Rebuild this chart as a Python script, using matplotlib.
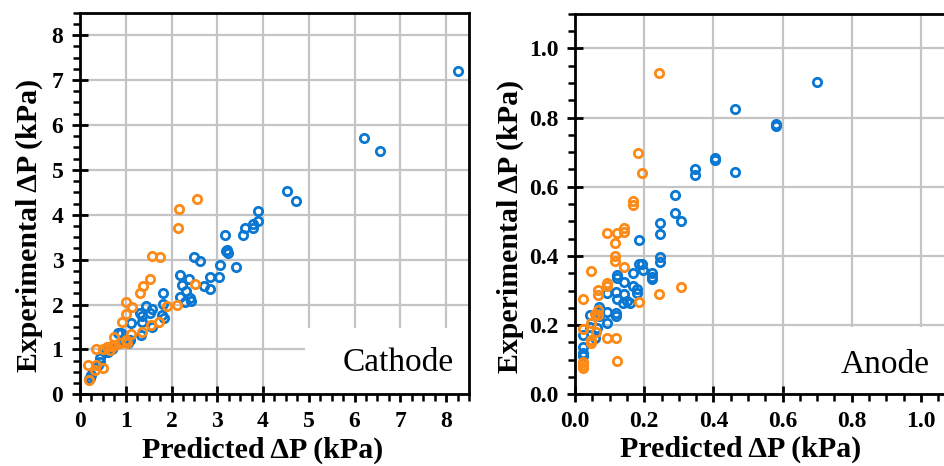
import matplotlib
matplotlib.use("Agg")
import matplotlib.pyplot as plt
from matplotlib.patches import Rectangle
from matplotlib.ticker import MultipleLocator

# ---------------- data ----------------
cat_blue_pred = [8.26, 6.21, 6.55, 4.52, 4.72, 3.90, 3.90, 3.77, 3.79, 3.60, 3.56, 3.17, 3.19, 3.23, 3.21,
                 3.41, 3.07, 3.04, 2.84, 2.84, 2.71, 2.50, 2.62, 2.19, 2.38, 2.22, 2.32, 2.19, 2.30, 2.42,
                 2.40, 1.82, 1.81, 1.80, 1.84, 1.44, 1.57, 1.31, 1.35, 1.35, 1.52, 1.57, 1.33, 1.11, 1.09,
                 0.89, 0.83, 0.94, 1.05, 0.73, 0.69, 0.62, 0.54, 0.44, 0.43, 0.39, 0.25, 0.22, 0.20]
cat_blue_exp = [7.21, 5.70, 5.43, 4.53, 4.30, 4.08, 3.86, 3.79, 3.70, 3.71, 3.55, 3.55, 3.19, 3.14, 3.22,
                2.84, 2.88, 2.61, 2.61, 2.34, 2.41, 3.05, 2.97, 2.66, 2.56, 2.43, 2.31, 2.17, 2.06, 2.08,
                2.14, 2.25, 2.01, 1.77, 1.69, 1.97, 1.89, 1.82, 1.74, 1.62, 1.80, 1.51, 1.32, 1.59, 1.21,
                1.36, 1.36, 1.21, 1.15, 1.06, 1.02, 0.95, 0.95, 0.80, 0.72, 0.65, 0.43, 0.37, 0.33]

cat_orange_pred = [2.55, 2.16, 2.14, 1.57, 1.75, 1.53, 1.37, 1.31, 2.51, 1.01, 1.13, 1.01, 0.91, 1.91, 2.12,
                   1.72, 1.55, 1.36, 1.12, 1.01, 0.74, 1.03, 0.87, 0.76, 0.36, 0.50, 0.58, 0.65, 0.68,
                   0.17, 0.36, 0.50, 0.32, 0.20]
cat_orange_exp = [4.34, 4.12, 3.70, 3.08, 3.06, 2.56, 2.42, 2.25, 2.46, 2.06, 1.94, 1.78, 1.60, 1.96, 1.98,
                  1.61, 1.54, 1.39, 1.34, 1.21, 1.28, 1.14, 1.15, 1.09, 1.01, 1.01, 1.05, 0.98, 1.08,
                  0.65, 0.66, 0.58, 0.55, 0.32]

an_blue_pred = [0.698, 0.462, 0.581, 0.581, 0.405, 0.405, 0.462, 0.347, 0.347, 0.288, 0.288, 0.305, 0.246,
                0.246, 0.184, 0.246, 0.246, 0.184, 0.193, 0.196, 0.222, 0.222, 0.222, 0.167, 0.120, 0.120,
                0.143, 0.167, 0.178, 0.178, 0.143, 0.118, 0.120, 0.140, 0.159, 0.150, 0.093, 0.093, 0.093,
                0.118, 0.118, 0.069, 0.069, 0.069, 0.043, 0.063, 0.058, 0.024, 0.022, 0.022, 0.022, 0.044]
an_blue_exp = [0.904, 0.825, 0.781, 0.775, 0.682, 0.677, 0.642, 0.652, 0.634, 0.575, 0.523, 0.501, 0.494,
               0.462, 0.446, 0.396, 0.383, 0.377, 0.376, 0.359, 0.352, 0.340, 0.332, 0.352, 0.345, 0.337,
               0.326, 0.313, 0.303, 0.292, 0.289, 0.297, 0.275, 0.263, 0.263, 0.269, 0.292, 0.239, 0.205,
               0.234, 0.226, 0.253, 0.239, 0.226, 0.229, 0.191, 0.162, 0.171, 0.138, 0.119, 0.110, 0.195]

an_orange_pred = [0.244, 0.182, 0.193, 0.167, 0.167, 0.143, 0.143, 0.120, 0.092, 0.116, 0.116, 0.116,
                  0.143, 0.046, 0.022, 0.093, 0.093, 0.067, 0.067, 0.184, 0.242, 0.305, 0.067, 0.067,
                  0.058, 0.046, 0.022, 0.061, 0.046, 0.046, 0.092, 0.118, 0.120, 0.022, 0.022, 0.022]
an_orange_exp = [0.930, 0.697, 0.639, 0.559, 0.547, 0.480, 0.468, 0.465, 0.465, 0.438, 0.400, 0.386,
                 0.369, 0.356, 0.275, 0.321, 0.313, 0.301, 0.286, 0.268, 0.290, 0.311, 0.244, 0.229,
                 0.233, 0.207, 0.189, 0.181, 0.157, 0.148, 0.162, 0.164, 0.096, 0.094, 0.085, 0.077]

x_label = "Predicted \u0394P (kPa)"
y_label = "Experimental \u0394P (kPa)"
titles = ["Cathode", "Anode"]

# ---------------- style ----------------
BLUE = "#0a78d2"
ORANGE = "#fd8a17"
GRID = "#c4c4c4"
SERIF = ["Liberation Serif", "DejaVu Serif"]
plt.rcParams["font.family"] = SERIF

fig = plt.figure(figsize=(9.45, 4.66), dpi=100)
ax1 = fig.add_axes([80 / 945, 1 - 394.3 / 466, 389 / 945, 381.6 / 466])
ax2 = fig.add_axes([575 / 945, 1 - 394.3 / 466, 380.6 / 945, 380.6 / 466])


def style(ax, xmax, ymax, major, minor, fmt, ylab_x, xlab_x, xlab_y):
    ax.set_xlim(0, xmax)
    ax.set_ylim(0, ymax)
    ax.xaxis.set_major_locator(MultipleLocator(major))
    ax.yaxis.set_major_locator(MultipleLocator(major))
    ax.xaxis.set_minor_locator(MultipleLocator(minor))
    ax.yaxis.set_minor_locator(MultipleLocator(minor))
    ax.xaxis.set_major_formatter(fmt)
    ax.yaxis.set_major_formatter(fmt)
    ax.set_axisbelow(True)
    ax.grid(True, which="major", color=GRID, linewidth=1.6)
    for s in ax.spines.values():
        s.set_linewidth(2.0)
        s.set_color("black")
    ax.tick_params(which="major", direction="inout", length=12, width=2.0,
                   labelsize=17)
    ax.tick_params(axis="x", which="major", pad=6)
    ax.tick_params(axis="y", which="major", pad=6)
    ax.tick_params(which="minor", direction="out", length=5, width=1.8)
    ax.set_xlabel(x_label, fontsize=21.5, fontweight="bold")
    ax.set_ylabel(y_label, fontsize=21.5, fontweight="bold")
    ax.yaxis.set_label_coords(ylab_x, 0.442)
    ax.xaxis.set_label_coords(xlab_x, xlab_y)


style(ax1, 8.5, 8.5, 1, 0.25, lambda v, p: f"{v:.0f}", -0.095, 0.469, -0.11)
style(ax2, 1.1, 1.1, 0.2, 0.05, lambda v, p: f"{v:.1f}", -0.133, 0.436, -0.11)
for ax in (ax1, ax2):
    for lab in ax.get_xticklabels() + ax.get_yticklabels():
        lab.set_fontweight("bold")

mk = dict(marker="o", linestyle="none", markersize=6.0, markerfacecolor="none",
          markeredgewidth=2.0, clip_on=False, zorder=3)
ax1.plot(cat_blue_pred, cat_blue_exp, color=BLUE, **mk)
ax1.plot(cat_orange_pred, cat_orange_exp, color=ORANGE, **mk)
ax2.plot(an_blue_pred, an_blue_exp, color=BLUE, **mk)
ax2.plot(an_orange_pred, an_orange_exp, color=ORANGE, **mk)

# label boxes
ax1.add_patch(Rectangle((4.92, 0.02), 8.5 - 4.92, 1.48 - 0.02, facecolor="white",
                        edgecolor="none", zorder=1))
ax1.text(6.96, 0.70, titles[0], fontsize=24, ha="center", va="center", zorder=4)
ax2.add_patch(Rectangle((0.65, 0.003), 1.1 - 0.65, 0.195 - 0.003, facecolor="white",
                        edgecolor="none", zorder=1))
ax2.text(0.896, 0.085, titles[1], fontsize=24, ha="center", va="center", zorder=4)

fig.savefig("out.png", dpi=100)
